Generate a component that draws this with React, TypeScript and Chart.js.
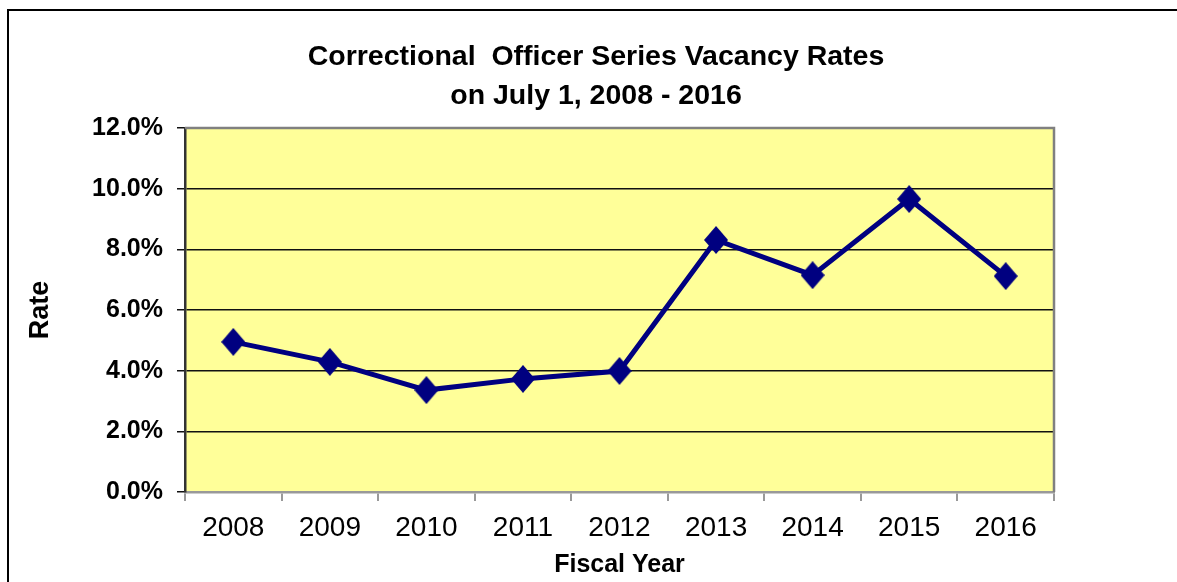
import React, { useEffect, useRef } from "react";
import { Chart, registerables } from "chart.js";

Chart.register(...registerables);

const categories = ["2008", "2009", "2010", "2011", "2012", "2013", "2014", "2015", "2016"];
const vacancyRates = [4.95, 4.29, 3.36, 3.73, 3.99, 8.31, 7.15, 9.66, 7.12];
const titleLines = ["Correctional  Officer Series Vacancy Rates", "on July 1, 2008 - 2016"];
const yAxisTitle = "Rate";
const xAxisTitle = "Fiscal Year";
const yMin = 0;
const yMax = 12;
const yStep = 2;

const NAVY = "#000080";
const SANS = "'Liberation Sans', Arial, sans-serif";

function makeDiamond(): HTMLCanvasElement {
  const c = document.createElement("canvas");
  const w = 24;
  const h = 28;
  c.width = w;
  c.height = h;
  const g = c.getContext("2d")!;
  g.fillStyle = NAVY;
  g.beginPath();
  g.moveTo(w / 2, 0);
  g.lineTo(w, h / 2);
  g.lineTo(w / 2, h);
  g.lineTo(0, h / 2);
  g.closePath();
  g.fill();
  return c;
}

const framePlugin = {
  id: "frame",
  beforeDraw(chart: any) {
    const { ctx, chartArea, width, height } = chart;
    ctx.save();
    ctx.fillStyle = "#ffffff";
    ctx.fillRect(0, 0, width, height);
    ctx.fillStyle = "#FFFF99";
    ctx.fillRect(chartArea.left, chartArea.top, chartArea.right - chartArea.left, chartArea.bottom - chartArea.top);
    ctx.strokeStyle = "#000000";
    ctx.lineWidth = 2;
    ctx.beginPath();
    ctx.moveTo(8, height + 5);
    ctx.lineTo(8, 10);
    ctx.lineTo(width + 5, 10);
    ctx.stroke();
    ctx.restore();
  },
  afterDraw(chart: any) {
    const { ctx, chartArea } = chart;
    ctx.save();
    ctx.strokeStyle = "#808080";
    ctx.lineWidth = 2.5;
    ctx.beginPath();
    ctx.moveTo(chartArea.left, chartArea.top);
    ctx.lineTo(chartArea.right, chartArea.top);
    ctx.lineTo(chartArea.right, chartArea.bottom);
    ctx.stroke();
    ctx.restore();
  },
};

export default function App() {
  const ref = useRef<HTMLCanvasElement | null>(null);
  useEffect(() => {
    if (!ref.current) return;
    const diamond = makeDiamond();
    const chart = new Chart(ref.current, {
      type: "line",
      data: {
        labels: categories,
        datasets: [
          {
            data: vacancyRates,
            borderColor: NAVY,
            backgroundColor: NAVY,
            borderWidth: 5,
            tension: 0,
            pointStyle: diamond as any,
            pointRadius: 12,
            yAxisID: "y",
          },
        ],
      },
      options: {
        responsive: false,
        animation: false,
        layout: { padding: { left: 15, right: 0, top: 0, bottom: 0 } },
        plugins: {
          legend: { display: false },
          tooltip: { enabled: false },
          title: {
            display: true,
            text: titleLines,
            color: "#000",
            font: { family: SANS, size: 28.5, weight: "bold", lineHeight: 1.37 },
            padding: { top: 37.5, bottom: 12.5 },
          },
        },
        scales: {
          x: {
            offset: true,
            grid: {
              offset: true,
              drawOnChartArea: false,
              drawTicks: true,
              tickLength: 9,
              tickColor: "#999999",
              lineWidth: 2,
            },
            border: { display: true, color: "#999999", width: 2.5 },
            ticks: {
              color: "#000",
              font: { family: SANS, size: 28 },
              padding: 10,
              maxRotation: 0,
            },
            title: {
              display: true,
              text: xAxisTitle,
              color: "#000",
              font: { family: SANS, size: 25, weight: "bold", lineHeight: 1.2 },
              padding: { top: 0, bottom: 2 },
            },
            afterFit(scale: any) {
              scale.height = 90;
            },
          },
          y: {
            min: yMin,
            max: yMax,
            grid: {
              color: (c: any) => (c.tick && c.tick.value === yMax ? "#808080" : "#111111"),
              lineWidth: 1.5,
              tickLength: 8,
              tickColor: "#111111",
            },
            border: { display: true, color: "#333333", width: 2.5 },
            ticks: {
              stepSize: yStep,
              color: "#000",
              font: { family: SANS, size: 25, weight: "bold" },
              padding: 14,
              callback: (v: any) => Number(v).toFixed(1) + "%",
            },
            title: {
              display: true,
              text: yAxisTitle,
              color: "#000",
              font: { family: SANS, size: 27, weight: "bold", lineHeight: 1.2 },
              padding: { top: 9, bottom: 0 },
            },
            afterFit(scale: any) {
              scale.width = 170;
            },
          },
          y2: {
            position: "right",
            display: true,
            grid: { display: false, drawTicks: false },
            border: { display: false },
            ticks: { display: false },
            afterFit(scale: any) {
              scale.width = 123;
            },
          },
        },
      } as any,
      plugins: [framePlugin],
    });
    return () => chart.destroy();
  }, []);
  return (
    <div style={{ position: "absolute", left: 0, top: 0 }}>
      <canvas ref={ref} width={1177} height={582} style={{ display: "block" }} />
    </div>
  );
}
